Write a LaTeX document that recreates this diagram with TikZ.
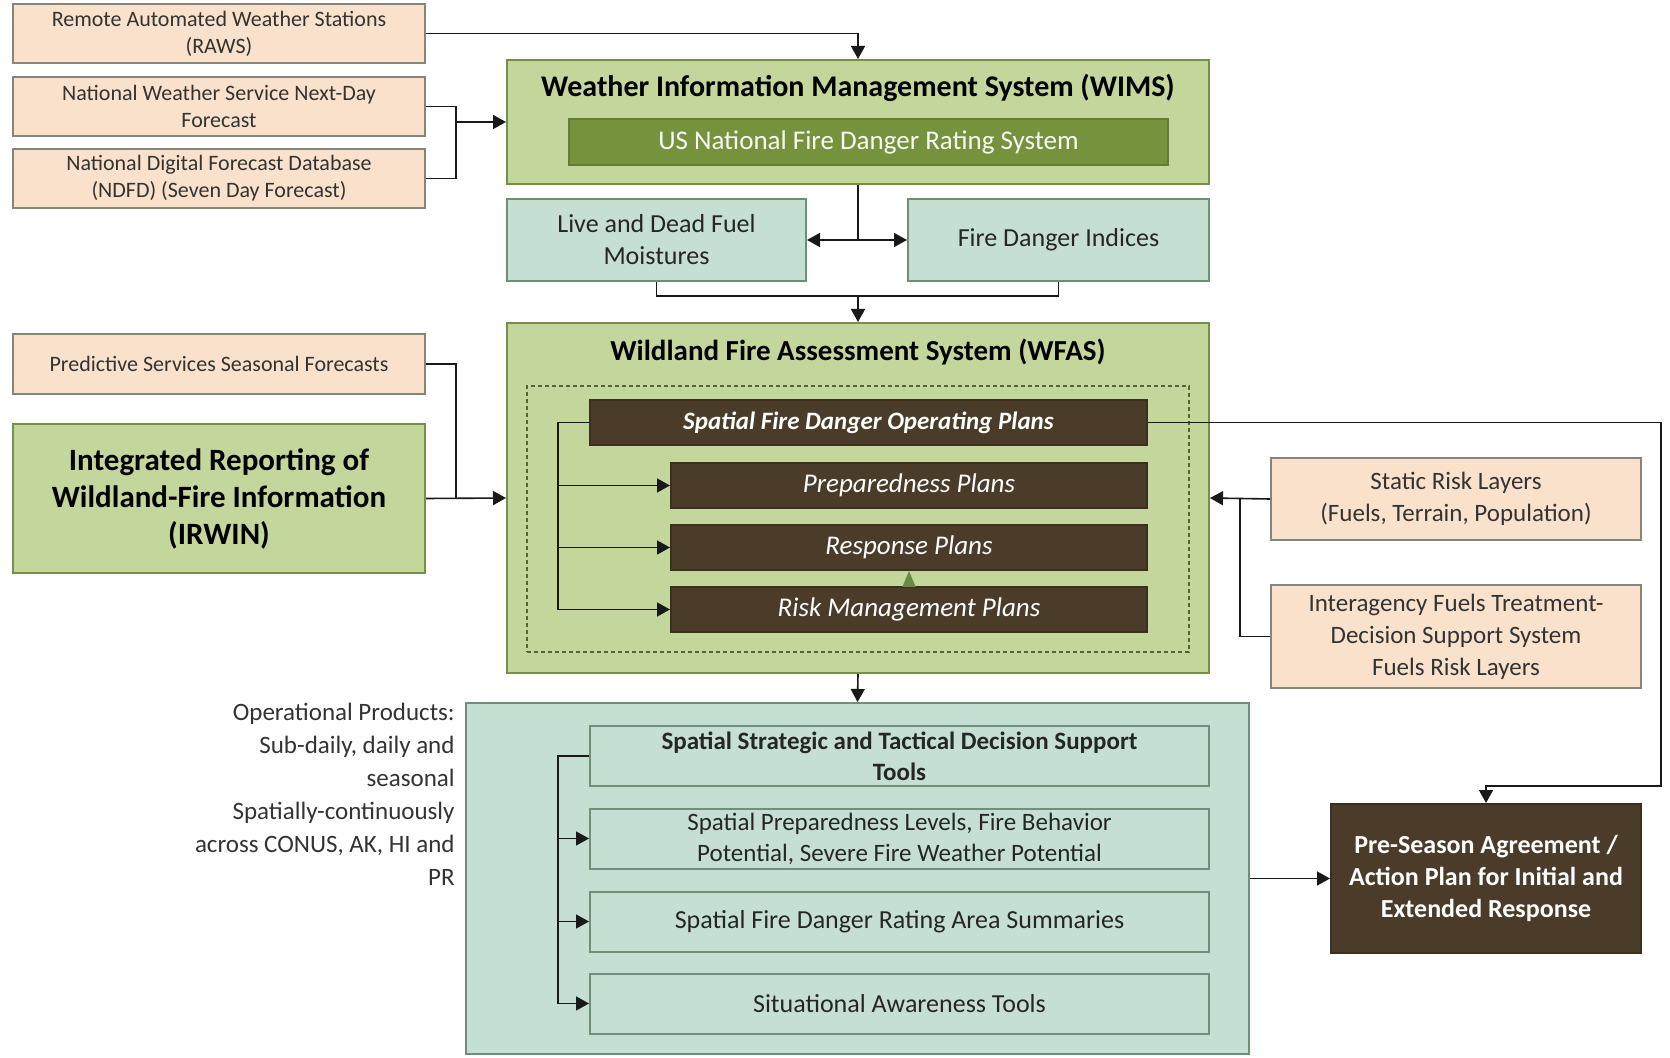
\documentclass[tikz,border=0pt]{standalone}
\usepackage{fontspec}
\setmainfont{Carlito}
\usetikzlibrary{arrows.meta}

\definecolor{peach}{HTML}{F9E1CC}
\definecolor{peachline}{HTML}{85857A}
\definecolor{olivelight}{HTML}{C3D69B}
\definecolor{oliveline}{HTML}{76904A}
\definecolor{olivedark}{HTML}{76923C}
\definecolor{tealbox}{HTML}{C5DFD3}
\definecolor{tealline}{HTML}{6F8F78}
\definecolor{brownbox}{HTML}{4A3C28}
\definecolor{tipgreen}{HTML}{6A8A45}

\newcommand{\fsz}[2]{\fontsize{#1}{#2}\selectfont}

\tikzset{
  base/.style={draw, line width=1pt, align=center, inner sep=2pt},
  input/.style={base, fill=peach, draw=peachline, text=black!80},
  system/.style={base, fill=olivelight, draw=oliveline},
  product/.style={base, fill=tealbox, draw=tealline, text=black!85},
  plan/.style={base, fill=brownbox, draw=brownbox!80!black, text=white},
  conn/.style={line width=0.8pt, black!90},
  arr/.style={conn, -{Triangle[length=6.5pt,width=7pt]}},
}

\begin{document}
\begin{tikzpicture}[x=0.5pt, y=-0.5pt]
    \fill[white] (0,0) rectangle (1670,1058);

    % Inputs to WIMS
    \node[input, minimum width=206pt, minimum height=29.5pt, font=\fsz{11}{13.5}] (raws) at (219,33.5) {Remote Automated Weather Stations\\(RAWS)};
    \node[input, minimum width=206pt, minimum height=29.5pt, font=\fsz{11}{13.5}] (nws) at (219,106.5) {National Weather Service Next-Day\\Forecast};
    \node[input, minimum width=206pt, minimum height=29.5pt, font=\fsz{11}{13.5}] (ndfd) at (219,178.5) {National Digital Forecast Database\\(NDFD) (Seven Day Forecast)};

    % WIMS
    \node[system, minimum width=351pt, minimum height=62pt] (wims) at (858,122) {};
    \node[font=\fsz{15}{18}\bfseries] (wimstitle) at (858,88) {Weather Information Management System (WIMS)};
    \node[base, fill=olivedark, draw=olivedark!85!black, text=white!90!olivelight, minimum width=299.5pt, minimum height=23pt, font=\fsz{13.5}{16}] (nfdrs) at (868.5,142) {US National Fire Danger Rating System};

    % Outputs of WIMS
    \node[product, minimum width=149.5pt, minimum height=41pt, font=\fsz{13}{16}] (fuel) at (656.5,240) {Live and Dead Fuel\\Moistures};
    \node[product, minimum width=150.5pt, minimum height=41pt, font=\fsz{13}{16}] (fdi) at (1058.5,240) {Fire Danger Indices};

    % WFAS
    \node[system, minimum width=351pt, minimum height=175pt] (wfas) at (858,498) {};
    \node[font=\fsz{14.5}{17}\bfseries] (wfastitle) at (858,352) {Wildland Fire Assessment System (WFAS)};
    \node[draw=oliveline!70!black, dash pattern=on 2pt off 1.5pt, line width=0.8pt, minimum width=331pt, minimum height=133pt] (frame) at (858,519) {};
    \node[plan, minimum width=278.5pt, minimum height=22.5pt, font=\fsz{12.5}{15}\bfseries\itshape] (sfdop) at (868.5,422.5) {Spatial Fire Danger Operating Plans};
    \node[plan, minimum width=238pt, minimum height=22.5pt, font=\fsz{13.5}{16}\itshape] (prep) at (909,485.5) {Preparedness Plans};
    \node[plan, minimum width=238pt, minimum height=22.5pt, font=\fsz{13.5}{16}\itshape] (resp) at (909,547.5) {Response Plans};
    \node[plan, minimum width=238pt, minimum height=22.5pt, font=\fsz{13.5}{16}\itshape] (risk) at (909,609.5) {Risk Management Plans};

    % Inputs to WFAS
    \node[input, minimum width=206pt, minimum height=30pt, font=\fsz{11}{13.5}] (pssf) at (219,364) {Predictive Services Seasonal Forecasts};
    \node[system, minimum width=206pt, minimum height=74.5pt, font=\fsz{15.5}{18.5}\bfseries] (irwin) at (219,498.5) {Integrated Reporting of\\Wildland-Fire Information\\(IRWIN)};
    \node[input, minimum width=185pt, minimum height=41pt, font=\fsz{12.5}{16}] (static) at (1456,499) {Static Risk Layers\\(Fuels, Terrain, Population)};
    \node[input, minimum width=185pt, minimum height=51.5pt, font=\fsz{12.5}{16}] (iftdss) at (1456,636.5) {Interagency Fuels Treatment-\\Decision Support System\\Fuels Risk Layers};

    % Operational products
    \node[product, minimum width=391.5pt, minimum height=175.5pt] (ops) at (857.5,878.5) {};
    \node[product, minimum width=309.5pt, minimum height=30pt, font=\fsz{12.5}{15.5}\bfseries] (sstd) at (899.5,756) {Spatial Strategic and Tactical Decision Support\\Tools};
    \node[product, minimum width=309.5pt, minimum height=30pt, font=\fsz{12.5}{15.5}] (spl) at (899.5,838.5) {Spatial Preparedness Levels, Fire Behavior\\Potential, Severe Fire Weather Potential};
    \node[product, minimum width=309.5pt, minimum height=30pt, font=\fsz{13}{16}] (sfdras) at (899.5,921.5) {Spatial Fire Danger Rating Area Summaries};
    \node[product, minimum width=309.5pt, minimum height=30pt, font=\fsz{13}{16}] (sat) at (899.5,1003.5) {Situational Awareness Tools};
    \node[anchor=north east, align=right, inner sep=0pt, text=black!80, font=\fsz{12.5}{16.5}] (note) at (455,703) {Operational Products:\\Sub-daily, daily and\\seasonal\\Spatially-continuously\\across CONUS, AK, HI and\\PR};

    \node[plan, minimum width=155pt, minimum height=74.5pt, font=\fsz{13}{16}\bfseries] (preseason) at (1486,878.5) {Pre-Season Agreement /\\Action Plan for Initial and\\Extended Response};

    % Connectors
    \coordinate (jw) at (456,122);
    \coordinate (jf) at (858,296);
    \coordinate (jd) at (858,240);
    \coordinate (bx) at (558,0);
    \coordinate (rx) at (1661,786);

    \draw[arr] (raws.east) -| (wims.north);
    \draw[conn] (nws.east) -| (jw |- ndfd.east) -- (ndfd.east);
    \draw[arr] (jw) -- (wims.west);

    \draw[conn] (wims.south) -- (jd);
    \draw[arr] (jd) -- (fuel.east);
    \draw[arr] (jd) -- (fdi.west);
    \draw[conn] (fuel.south) |- (jf) -| (fdi.south);
    \draw[arr] (jf) -- (wfas.north);

    \draw[conn] (pssf.east) -| (jw |- irwin.east);
    \draw[arr] (irwin.east) -- (wfas.west);
    \draw[arr] (static.west) -- (wfas.east);
    \draw[conn] (iftdss.west) -| ([xshift=-15pt]static.west);

    \draw[conn] (sfdop.west) -| (bx |- risk.west);
    \foreach \p in {prep, resp, risk}
        \draw[arr] (bx |- \p.west) -- (\p.west);
    \draw[tipgreen, line width=0.5pt, -{Triangle[length=8pt,width=6.5pt]}] (risk.north) -- (resp.south);

    \draw[arr] (sfdop.east) -| (rx) -| (preseason.north);
    \draw[arr] (wfas.south) -- (ops.north);

    \draw[conn] (sstd.west) -| (bx |- sat.west);
    \foreach \p in {spl, sfdras, sat}
        \draw[arr] (bx |- \p.west) -- (\p.west);
    \draw[arr] (ops.east) -- (preseason.west);
\end{tikzpicture}
\end{document}
